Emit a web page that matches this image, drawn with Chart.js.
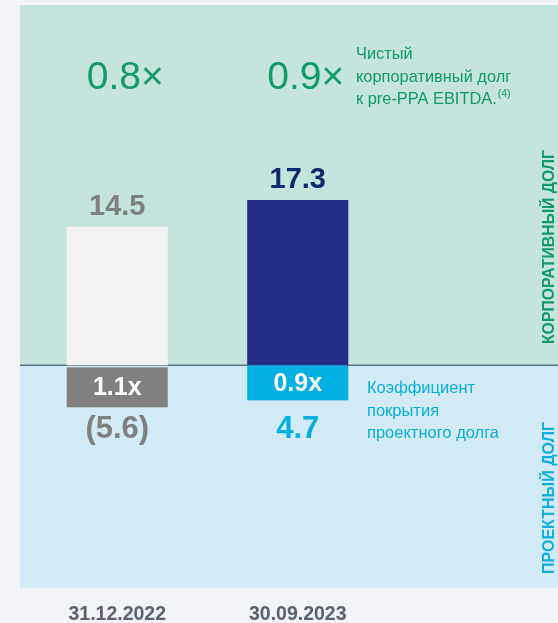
<!DOCTYPE html>
<html>
<head>
<meta charset="utf-8">
<script src="https://cdn.jsdelivr.net/npm/chart.js@4"></script>
<style>
  html, body { margin: 0; padding: 0; background: #f2f4f7; }
  #wrap { width: 558px; height: 623px; }
</style>
</head>
<body>
<div id="wrap"><canvas id="c" width="558" height="623"></canvas></div>
<script>
const categories = ['31.12.2022', '30.09.2023'];
const corporateDebt = [14.5, 17.3];
const corporateDebtLabels = ['14.5', '17.3'];
const leverage = [0.8, 0.9];
const coverage = [1.1, 0.9];
const projectDebtLabels = ['(5.6)', '4.7'];
const corpNote = ['Чистый', 'корпоративный долг', 'к pre-PPA EBITDA.'];
const projNote = ['Коэффициент', 'покрытия', 'проектного долга'];

const FONT = '"Liberation Sans", Arial, sans-serif';
const barColors = ['#f2f2f2', '#232d87'];
const valueColors = ['#808080', '#0e2a6e'];
const boxColors = ['#808080', '#00b0e0'];
const projColors = ['#808080', '#00aee0'];
const green = '#119b69';
const cyan = '#0aaee0';

const panels = {
  id: 'panels',
  beforeDraw(chart) {
    const ctx = chart.ctx;
    const ca = chart.chartArea;
    const y0 = chart.scales.y.getPixelForValue(0);
    ctx.save();
    ctx.fillStyle = '#c5e4dd';
    ctx.fillRect(20, ca.top, 538, y0 - ca.top);
    ctx.fillStyle = '#d3ebf6';
    ctx.fillRect(20, y0, 538, ca.bottom - y0);
    ctx.strokeStyle = '#5f7480';
    ctx.lineWidth = 1.5;
    ctx.beginPath();
    ctx.moveTo(20, y0);
    ctx.lineTo(558, y0);
    ctx.stroke();
    ctx.restore();
  },
  afterDatasetsDraw(chart) {
    const ctx = chart.ctx;
    const meta = chart.getDatasetMeta(0);
    const y0 = chart.scales.y.getPixelForValue(0);
    ctx.save();
    ctx.textAlign = 'center';
    ctx.textBaseline = 'middle';
    meta.data.forEach((bar, i) => {
      ctx.font = 'bold 29px ' + FONT;
      ctx.fillStyle = valueColors[i];
      ctx.fillText(corporateDebtLabels[i], bar.x, bar.y - 20);
      ctx.font = '39px ' + FONT;
      ctx.fillStyle = green;
      ctx.fillText(leverage[i].toFixed(1) + '\u00d7', bar.x + 8, 78);
      const w = bar.width;
      const top = i === 0 ? y0 + 2 : y0;
      const h = i === 0 ? 40 : 35;
      ctx.fillStyle = boxColors[i];
      ctx.fillRect(bar.x - w / 2, top, w, h);
      ctx.font = 'bold 25px ' + FONT;
      ctx.fillStyle = '#ffffff';
      ctx.fillText(coverage[i].toFixed(1) + 'x', bar.x, top + h / 2 + 1);
      ctx.font = 'bold 31px ' + FONT;
      ctx.fillStyle = projColors[i];
      ctx.fillText(projectDebtLabels[i], bar.x, 429);
    });
    ctx.textAlign = 'left';
    ctx.font = '16.4px ' + FONT;
    ctx.fillStyle = green;
    const ys = [54, 77, 99];
    corpNote.forEach((t, k) => ctx.fillText(t, 356, ys[k]));
    const w3 = ctx.measureText(corpNote[2]).width;
    ctx.font = '10.5px ' + FONT;
    ctx.fillText('(4)', 356 + w3 + 1, 94);
    ctx.font = '16.5px ' + FONT;
    ctx.fillStyle = cyan;
    const ys2 = [388, 411, 433];
    projNote.forEach((t, k) => ctx.fillText(t, 367, ys2[k]));
    ctx.textAlign = 'center';
    ctx.save();
    ctx.translate(550, 247);
    ctx.rotate(-Math.PI / 2);
    ctx.font = 'bold 15.8px ' + FONT;
    ctx.fillStyle = green;
    ctx.fillText('КОРПОРАТИВНЫЙ ДОЛГ', 0, 0);
    ctx.restore();
    ctx.save();
    ctx.translate(550, 498);
    ctx.rotate(-Math.PI / 2);
    ctx.font = 'bold 16px ' + FONT;
    ctx.fillStyle = cyan;
    ctx.fillText('ПРОЕКТНЫЙ ДОЛГ', 0, 0);
    ctx.restore();
    ctx.restore();
  }
};

new Chart(document.getElementById('c'), {
  type: 'bar',
  data: {
    labels: categories,
    datasets: [{
      label: 'Корпоративный долг',
      data: corporateDebt,
      backgroundColor: barColors,
      borderWidth: 0,
      barPercentage: 0.56,
      categoryPercentage: 1
    }]
  },
  options: {
    responsive: false,
    animation: false,
    devicePixelRatio: 1,
    layout: { padding: { left: 27, right: 170, top: 5, bottom: 0 } },
    plugins: { legend: { display: false }, tooltip: { enabled: false } },
    scales: {
      x: {
        grid: { display: false, drawTicks: false },
        border: { display: false },
        afterFit(scale) { scale.height = 35; },
        ticks: {
          padding: 17,
          color: '#59636e',
          font: { family: FONT, size: 19.5, weight: 'bold', lineHeight: 1 }
        }
      },
      y: { display: false, min: -23.3, max: 37.7 }
    }
  },
  plugins: [panels]
});
</script>
</body>
</html>
